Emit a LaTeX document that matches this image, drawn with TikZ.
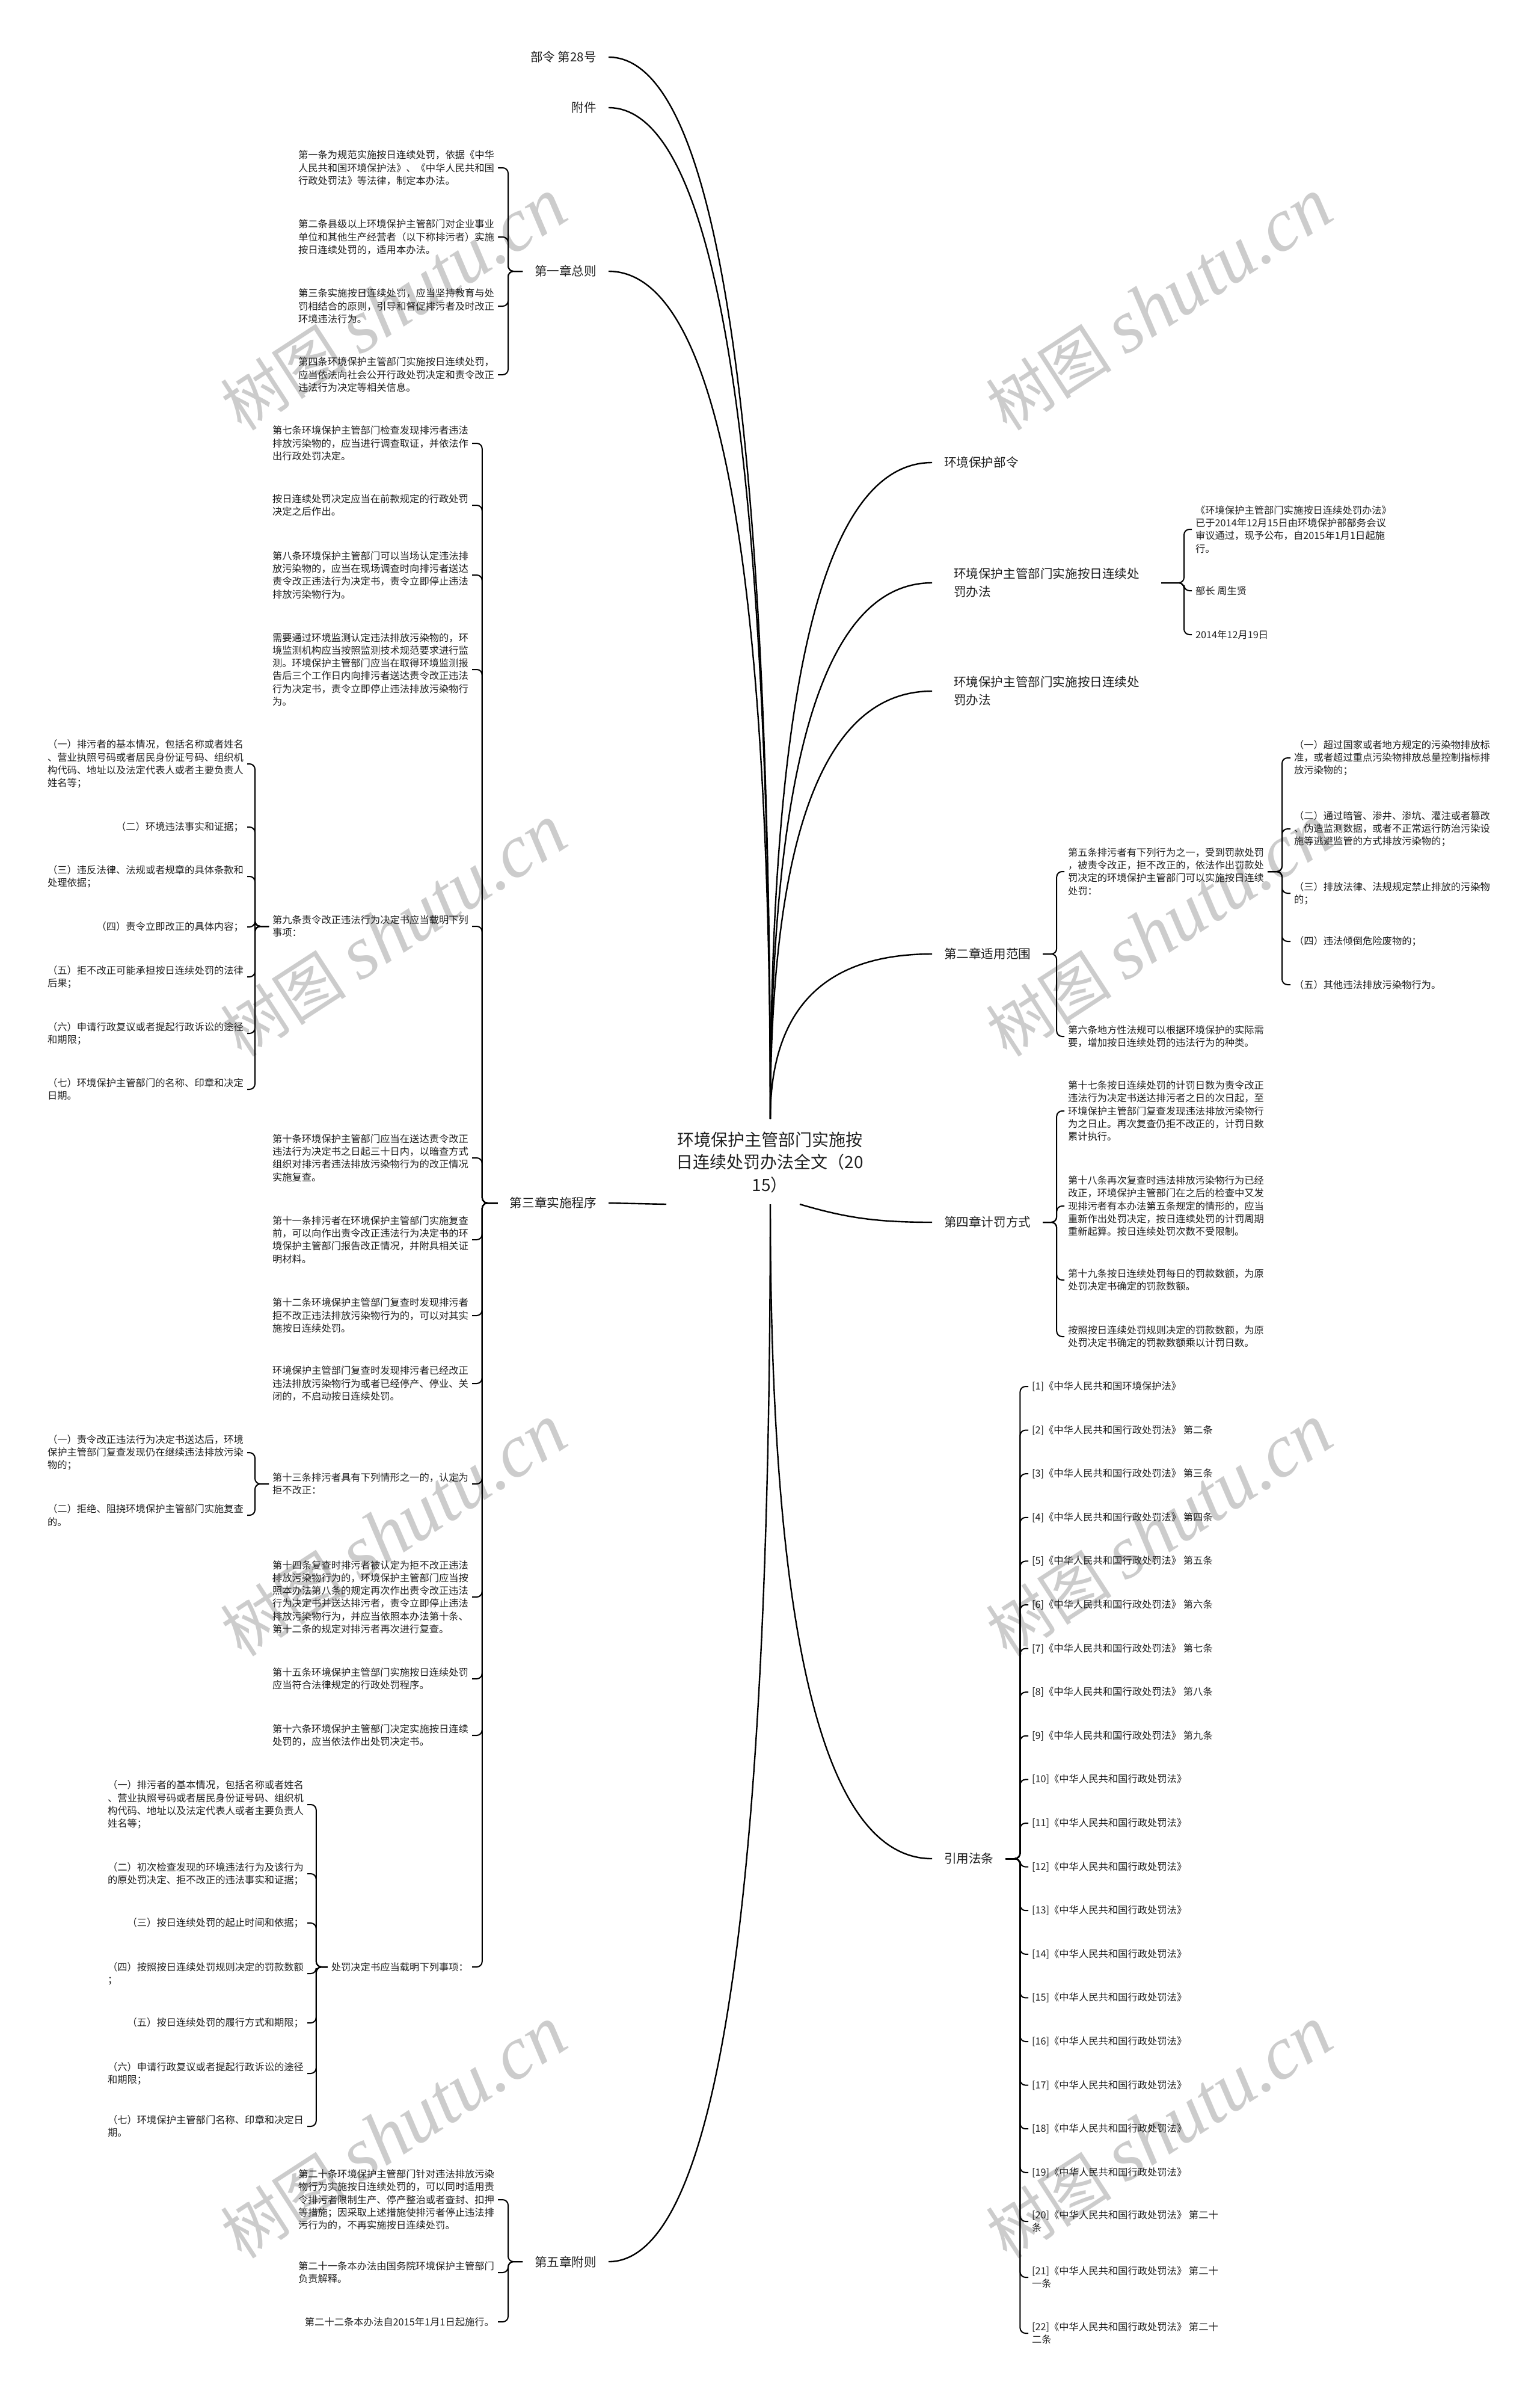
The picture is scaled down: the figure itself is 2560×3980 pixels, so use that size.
\documentclass[tikz,border=0pt]{standalone}
\usepackage{fontspec}
\setmainfont{Noto Sans CJK SC}
\newfontfamily\wmserif{Liberation Serif}
\usetikzlibrary{calc}
\begin{document}
\begin{tikzpicture}[x=1pt,y=-1pt,
  every node/.style={inner sep=0pt,outer sep=0pt,text=black!88},
  sm/.style={font=\fontsize{16.3}{21.3}\selectfont,align=left,inner xsep=6pt},
  bg/.style={font=\fontsize{20.6}{30}\selectfont,align=left,inner xsep=20pt},
  bgw/.style={font=\fontsize{20.6}{30}\selectfont,align=left,inner xsep=36pt},
  root/.style={font=\fontsize{28}{37.5}\selectfont,align=center},
  link/.style={line width=2.4pt},
  brk/.style={line width=2pt,rounded corners=9pt},
  wm/.style={rotate=33,text=black!20},
  qc/.style={to path={.. controls ($(\tikztostart)!0.6667!(#1)$) and ($(\tikztotarget)!0.6667!(#1)$) .. (\tikztotarget)}}]
\useasboundingbox (0,0) rectangle (2560,3980);
\fill[white] (0,0) rectangle (2560,3980);

% watermarks
\foreach \wx/\wy [count=\wi] in {655/507,1928/507,655/1548,1928/1548,655/2545,1928/2545,655/3546,1928/3546}
  \node[wm] (wm\wi) at (\wx,\wy) {\fontsize{105}{105}\selectfont 树图 {\wmserif\itshape\fontsize{125}{125}\selectfont shutu.cn}};

% root
\node[root] (root) at (1280,1932) {环境保护主管部门实施按\\日连续处罚办法全文（20\\15）};
\coordinate (T) at (1281,1860);
\coordinate (B) at (1281,2002);
\coordinate (Lc) at (1108,2002);
\coordinate (P4) at (1330,2002);

% left first level
\node[bg,anchor=east] (n1) at (1012,95) {部令 第28号};
\node[bg,anchor=east] (n2) at (1012,179) {附件};
\node[bg,anchor=east] (n3) at (1012,451) {第一章总则};
\node[bg,anchor=east] (n4) at (1012,2000) {第三章实施程序};
\node[bg,anchor=east] (n5) at (1012,3760) {第五章附则};

% chapter 1
\node[sm,anchor=east] (a1) at (828,279) {第一条为规范实施按日连续处罚，依据《中华\\人民共和国环境保护法》、《中华人民共和国\\行政处罚法》等法律，制定本办法。};
\node[sm,anchor=east] (a2) at (828,394) {第二条县级以上环境保护主管部门对企业事业\\单位和其他生产经营者（以下称排污者）实施\\按日连续处罚的，适用本办法。};
\node[sm,anchor=east] (a3) at (828,509) {第三条实施按日连续处罚，应当坚持教育与处\\罚相结合的原则，引导和督促排污者及时改正\\环境违法行为。};
\node[sm,anchor=east] (a4) at (828,623) {第四条环境保护主管部门实施按日连续处罚，\\应当依法向社会公开行政处罚决定和责令改正\\违法行为决定等相关信息。};

% chapter 3
\node[sm,anchor=east] (b1) at (785,737) {第七条环境保护主管部门检查发现排污者违法\\排放污染物的，应当进行调查取证，并依法作\\出行政处罚决定。};
\node[sm,anchor=east] (b2) at (785,840) {按日连续处罚决定应当在前款规定的行政处罚\\决定之后作出。};
\node[sm,anchor=east] (b3) at (785,956) {第八条环境保护主管部门可以当场认定违法排\\放污染物的，应当在现场调查时向排污者送达\\责令改正违法行为决定书，责令立即停止违法\\排放污染物行为。};
\node[sm,anchor=east] (b4) at (785,1113) {需要通过环境监测认定违法排放污染物的，环\\境监测机构应当按照监测技术规范要求进行监\\测。环境保护主管部门应当在取得环境监测报\\告后三个工作日内向排污者送达责令改正违法\\行为决定书，责令立即停止违法排放污染物行\\为。};
\node[sm,anchor=east] (b5) at (785,1540) {第九条责令改正违法行为决定书应当载明下列\\事项：};
\node[sm,anchor=east] (b6) at (785,1925) {第十条环境保护主管部门应当在送达责令改正\\违法行为决定书之日起三十日内，以暗查方式\\组织对排污者违法排放污染物行为的改正情况\\实施复查。};
\node[sm,anchor=east] (b7) at (785,2061) {第十一条排污者在环境保护主管部门实施复查\\前，可以向作出责令改正违法行为决定书的环\\境保护主管部门报告改正情况，并附具相关证\\明材料。};
\node[sm,anchor=east] (b8) at (785,2187) {第十二条环境保护主管部门复查时发现排污者\\拒不改正违法排放污染物行为的，可以对其实\\施按日连续处罚。};
\node[sm,anchor=east] (b9) at (785,2300) {环境保护主管部门复查时发现排污者已经改正\\违法排放污染物行为或者已经停产、停业、关\\闭的，不启动按日连续处罚。};
\node[sm,anchor=east] (b10) at (785,2467) {第十三条排污者具有下列情形之一的，认定为\\拒不改正：};
\node[sm,anchor=east] (b11) at (785,2655) {第十四条复查时排污者被认定为拒不改正违法\\排放污染物行为的，环境保护主管部门应当按\\照本办法第八条的规定再次作出责令改正违法\\行为决定书并送达排污者，责令立即停止违法\\排放污染物行为，并应当依照本办法第十条、\\第十二条的规定对排污者再次进行复查。};
\node[sm,anchor=east] (b12) at (785,2791) {第十五条环境保护主管部门实施按日连续处罚\\应当符合法律规定的行政处罚程序。};
\node[sm,anchor=east] (b13) at (785,2885) {第十六条环境保护主管部门决定实施按日连续\\处罚的，应当依法作出处罚决定书。};
\node[sm,anchor=east] (b14) at (785,3270) {处罚决定书应当载明下列事项：};

% article 9 items
\node[sm,anchor=east] (c1) at (411,1270) {（一）排污者的基本情况，包括名称或者姓名\\、营业执照号码或者居民身份证号码、组织机\\构代码、地址以及法定代表人或者主要负责人\\姓名等；};
\node[sm,anchor=east] (c2) at (411,1375) {（二）环境违法事实和证据；};
\node[sm,anchor=east] (c3) at (411,1457) {（三）违反法律、法规或者规章的具体条款和\\处理依据；};
\node[sm,anchor=east] (c4) at (411,1541) {（四）责令立即改正的具体内容；};
\node[sm,anchor=east] (c5) at (411,1624) {（五）拒不改正可能承担按日连续处罚的法律\\后果；};
\node[sm,anchor=east] (c6) at (411,1718) {（六）申请行政复议或者提起行政诉讼的途径\\和期限；};
\node[sm,anchor=east] (c7) at (411,1811) {（七）环境保护主管部门的名称、印章和决定\\日期。};

% article 13 items
\node[sm,anchor=east] (d1) at (411,2415) {（一）责令改正违法行为决定书送达后，环境\\保护主管部门复查发现仍在继续违法排放污染\\物的；};
\node[sm,anchor=east] (d2) at (411,2519) {（二）拒绝、阻挠环境保护主管部门实施复查\\的。};

% decision items
\node[sm,anchor=east] (e1) at (511,3000) {（一）排污者的基本情况，包括名称或者姓名\\、营业执照号码或者居民身份证号码、组织机\\构代码、地址以及法定代表人或者主要负责人\\姓名等；};
\node[sm,anchor=east] (e2) at (511,3115) {（二）初次检查发现的环境违法行为及该行为\\的原处罚决定、拒不改正的违法事实和证据；};
\node[sm,anchor=east] (e3) at (511,3197) {（三）按日连续处罚的起止时间和依据；};
\node[sm,anchor=east] (e4) at (511,3281) {（四）按照按日连续处罚规则决定的罚款数额\\；};
\node[sm,anchor=east] (e5) at (511,3363) {（五）按日连续处罚的履行方式和期限；};
\node[sm,anchor=east] (e6) at (511,3447) {（六）申请行政复议或者提起行政诉讼的途径\\和期限；};
\node[sm,anchor=east] (e7) at (511,3535) {（七）环境保护主管部门名称、印章和决定日\\期。};

% chapter 5
\node[sm,anchor=east] (f1) at (828,3657) {第二十条环境保护主管部门针对违法排放污染\\物行为实施按日连续处罚的，可以同时适用责\\令排污者限制生产、停产整治或者查封、扣押\\等措施；因采取上述措施使排污者停止违法排\\污行为的，不再实施按日连续处罚。};
\node[sm,anchor=east] (f2) at (828,3778) {第二十一条本办法由国务院环境保护主管部门\\负责解释。};
\node[sm,anchor=east] (f3) at (828,3860) {第二十二条本办法自2015年1月1日起施行。};

% right first level
\node[bg,anchor=west] (r1) at (1550,769) {环境保护部令};
\node[bgw,anchor=west] (r2) at (1550,969) {环境保护主管部门实施按日连续处\\罚办法};
\node[bgw,anchor=west] (r3) at (1550,1149) {环境保护主管部门实施按日连续处\\罚办法};
\node[bg,anchor=west] (r4) at (1550,1586) {第二章适用范围};
\node[bg,anchor=west] (r5) at (1550,2032) {第四章计罚方式};
\node[bg,anchor=west] (r6) at (1550,3090) {引用法条};

% order details
\node[sm,anchor=west] (g1) at (1982,880) {《环境保护主管部门实施按日连续处罚办法》\\已于2014年12月15日由环境保护部部务会议\\审议通过，现予公布，自2015年1月1日起施\\行。};
\node[sm,anchor=west] (g2) at (1982,982) {部长 周生贤};
\node[sm,anchor=west] (g3) at (1982,1055) {2014年12月19日};

% chapter 2
\node[sm,anchor=west] (h1) at (1770,1449) {第五条排污者有下列行为之一，受到罚款处罚\\，被责令改正，拒不改正的，依法作出罚款处\\罚决定的环境保护主管部门可以实施按日连续\\处罚：};
\node[sm,anchor=west] (h2) at (1770,1723) {第六条地方性法规可以根据环境保护的实际需\\要，增加按日连续处罚的违法行为的种类。};
\node[sm,anchor=west] (i1) at (2146,1260) {（一）超过国家或者地方规定的污染物排放标\\准，或者超过重点污染物排放总量控制指标排\\放污染物的；};
\node[sm,anchor=west] (i2) at (2146,1378) {（二）通过暗管、渗井、渗坑、灌注或者篡改\\、伪造监测数据，或者不正常运行防治污染设\\施等逃避监管的方式排放污染物的；};
\node[sm,anchor=west] (i3) at (2146,1485) {（三）排放法律、法规规定禁止排放的污染物\\的；};
\node[sm,anchor=west] (i4) at (2146,1565) {（四）违法倾倒危险废物的；};
\node[sm,anchor=west] (i5) at (2146,1637) {（五）其他违法排放污染物行为。};

% chapter 4
\node[sm,anchor=west] (j1) at (1770,1847) {第十七条按日连续处罚的计罚日数为责令改正\\违法行为决定书送达排污者之日的次日起，至\\环境保护主管部门复查发现违法排放污染物行\\为之日止。再次复查仍拒不改正的，计罚日数\\累计执行。};
\node[sm,anchor=west] (j2) at (1770,2005) {第十八条再次复查时违法排放污染物行为已经\\改正，环境保护主管部门在之后的检查中又发\\现排污者有本办法第五条规定的情形的，应当\\重新作出处罚决定，按日连续处罚的计罚周期\\重新起算。按日连续处罚次数不受限制。};
\node[sm,anchor=west] (j3) at (1770,2128) {第十九条按日连续处罚每日的罚款数额，为原\\处罚决定书确定的罚款数额。};
\node[sm,anchor=west] (j4) at (1770,2222) {按照按日连续处罚规则决定的罚款数额，为原\\处罚决定书确定的罚款数额乘以计罚日数。};

% cited articles
\node[sm,anchor=west] (k1) at (1710,2305) {[1]《中华人民共和国环境保护法》};
\node[sm,anchor=west] (k2) at (1710,2377.6) {[2]《中华人民共和国行政处罚法》 第二条};
\node[sm,anchor=west] (k3) at (1710,2450.2) {[3]《中华人民共和国行政处罚法》 第三条};
\node[sm,anchor=west] (k4) at (1710,2522.8) {[4]《中华人民共和国行政处罚法》 第四条};
\node[sm,anchor=west] (k5) at (1710,2595.4) {[5]《中华人民共和国行政处罚法》 第五条};
\node[sm,anchor=west] (k6) at (1710,2668) {[6]《中华人民共和国行政处罚法》 第六条};
\node[sm,anchor=west] (k7) at (1710,2740.6) {[7]《中华人民共和国行政处罚法》 第七条};
\node[sm,anchor=west] (k8) at (1710,2813.2) {[8]《中华人民共和国行政处罚法》 第八条};
\node[sm,anchor=west] (k9) at (1710,2885.8) {[9]《中华人民共和国行政处罚法》 第九条};
\node[sm,anchor=west] (k10) at (1710,2958.4) {[10]《中华人民共和国行政处罚法》};
\node[sm,anchor=west] (k11) at (1710,3031) {[11]《中华人民共和国行政处罚法》};
\node[sm,anchor=west] (k12) at (1710,3103.6) {[12]《中华人民共和国行政处罚法》};
\node[sm,anchor=west] (k13) at (1710,3176.2) {[13]《中华人民共和国行政处罚法》};
\node[sm,anchor=west] (k14) at (1710,3248.8) {[14]《中华人民共和国行政处罚法》};
\node[sm,anchor=west] (k15) at (1710,3321.4) {[15]《中华人民共和国行政处罚法》};
\node[sm,anchor=west] (k16) at (1710,3394) {[16]《中华人民共和国行政处罚法》};
\node[sm,anchor=west] (k17) at (1710,3466.6) {[17]《中华人民共和国行政处罚法》};
\node[sm,anchor=west] (k18) at (1710,3539.2) {[18]《中华人民共和国行政处罚法》};
\node[sm,anchor=west] (k19) at (1710,3611.8) {[19]《中华人民共和国行政处罚法》};
\node[sm,anchor=west] (k20) at (1710,3693) {[20]《中华人民共和国行政处罚法》 第二十\\条};
\node[sm,anchor=west] (k21) at (1710,3786) {[21]《中华人民共和国行政处罚法》 第二十\\一条};
\node[sm,anchor=west] (k22) at (1710,3879) {[22]《中华人民共和国行政处罚法》 第二十\\二条};

% main connectors
\foreach \n in {n1,n2,n3} \draw[link] (\n.east) to[qc={\n.east -| T}] (T);
\draw[link] (n4.east) -- (Lc);
\draw[link] (n5.east) to[qc={n5.east -| B}] (B);
\foreach \n in {r1,r2,r3,r4} \draw[link] (T) to[qc={T |- \n.west}] (\n.west);
\draw[link] (P4) .. controls +(75,22) and +(-95,0) .. (r5.west);
\draw[link] (B) to[qc={B |- r6.west}] (r6.west);

% brackets
\foreach \i in {1,...,4} \draw[brk] (n3.west) -- ++(-24,0) |- (a\i.east);
\foreach \i in {1,...,14} \draw[brk] (n4.west) -- ++(-26,0) |- (b\i.east);
\foreach \i in {1,...,7} \draw[brk] (b5.west) -- ++(-23,0) |- (c\i.east);
\foreach \i in {1,2} \draw[brk] (b10.west) -- ++(-23,0) |- (d\i.east);
\foreach \i in {1,...,7} \draw[brk] (b14.west) -- ++(-19,0) |- (e\i.east);
\foreach \i in {1,2,3} \draw[brk] (n5.west) -- ++(-24,0) |- (f\i.east);
\foreach \i in {1,2,3} \draw[brk] (r2.east) -- ++(38,0) |- (g\i.west);
\foreach \i in {1,2} \draw[brk] (r4.east) -- ++(23,0) |- (h\i.west);
\foreach \i in {1,...,5} \draw[brk] (h1.east) -- ++(24,0) |- (i\i.west);
\foreach \i in {1,...,4} \draw[brk] (r5.east) -- ++(23,0) |- (j\i.west);
\foreach \i in {1,...,22} \draw[brk] (r6.east) -- ++(24,0) |- (k\i.west);
\end{tikzpicture}
\end{document}
